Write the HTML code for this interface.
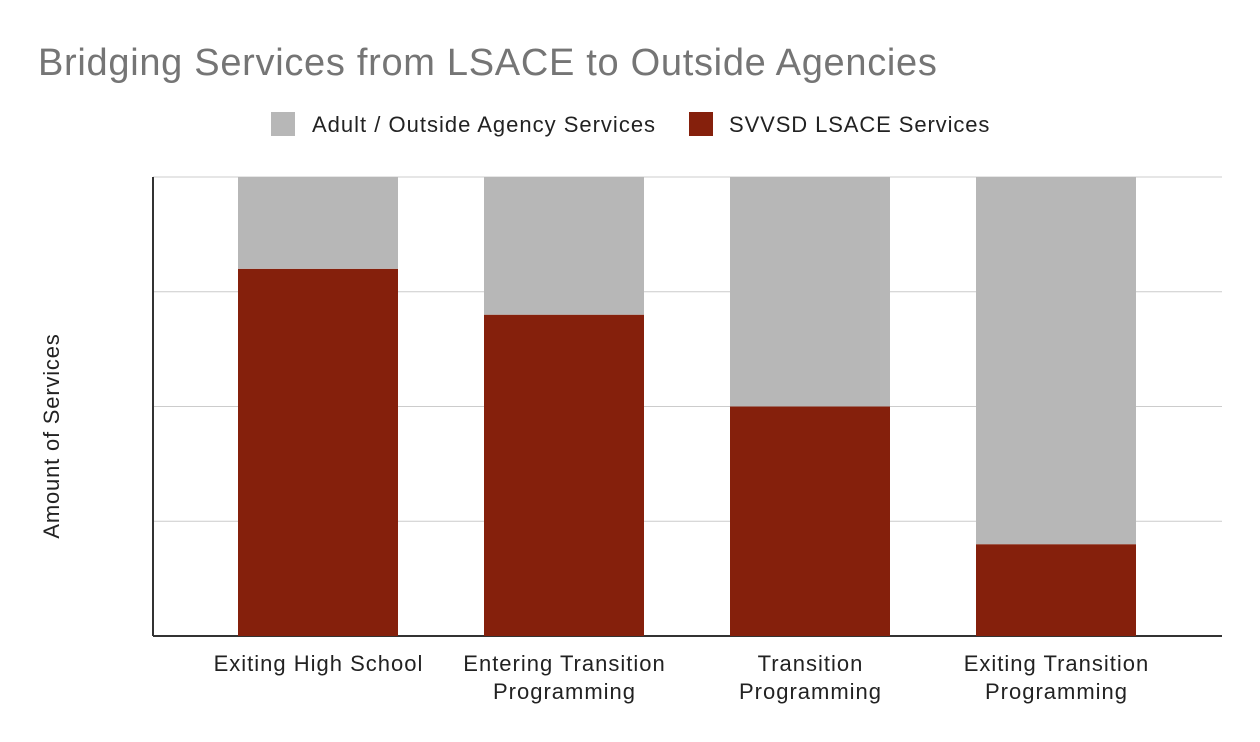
<!DOCTYPE html>
<html><head><meta charset="utf-8"><style>
html,body{margin:0;padding:0;background:#fff;}
svg{display:block;font-family:"Liberation Sans",Arial,sans-serif;}
</style></head><body>
<svg id="chart" width="1260" height="742" viewBox="0 0 1260 742">
<text x="38" y="75" font-size="38" letter-spacing="0.7" fill="#757575">Bridging Services from LSACE to Outside Agencies</text>
<g>
<rect x="271" y="112" width="24" height="24" fill="#b7b7b7"/>
<text x="312" y="132" font-size="22" letter-spacing="1" fill="#222">Adult / Outside Agency Services</text>
<rect x="689" y="112" width="24" height="24" fill="#85200c"/>
<text x="729" y="132" font-size="22" letter-spacing="0.9" fill="#222">SVVSD LSACE Services</text>
</g>
<text transform="translate(59,436) rotate(-90)" text-anchor="middle" font-size="22" letter-spacing="0.8" fill="#222">Amount of Services</text>
<g id="grid"></g><g id="bars"></g><g id="xlabels"></g>
</svg>
<script>
const categories=[["Exiting High School"],["Entering Transition","Programming"],["Transition","Programming"],["Exiting Transition","Programming"]];
const lsaceValues=[80,70,50,20];
const adultValues=[20,30,50,80];
const yTicks=[0,25,50,75,100];
const NS="http://www.w3.org/2000/svg";
const plotL=153,plotR=1222,plotT=177,plotB=636,bandL=195,bandW=246,barW=160,yMax=100;
const y=v=>plotB-(v/yMax)*(plotB-plotT);
const xc=i=>bandL+bandW*(i+0.5);
function mk(tag,attrs,parent){const e=document.createElementNS(NS,tag);for(const k in attrs)e.setAttribute(k,attrs[k]);parent.appendChild(e);return e;}
const grid=document.getElementById('grid');
yTicks.forEach((t,i)=>{
  const l=mk('line',{x1:plotL,x2:plotR,y1:y(t),y2:y(t),stroke:i===0?'#333':'#ccc','stroke-width':i===0?2:1},grid);
  
  
});
const ax=mk('line',{x1:plotL,x2:plotL,y1:plotT,y2:plotB,stroke:'#333','stroke-width':2},grid);


const bars=document.getElementById('bars');
categories.forEach((c,i)=>{
  const x0=xc(i)-barW/2;
  const r=mk('rect',{x:x0,y:y(lsaceValues[i]),width:barW,height:y(0)-y(lsaceValues[i]),fill:'#85200c'},bars);
  
  
  const top=lsaceValues[i]+adultValues[i];
  const g=mk('rect',{x:x0,y:y(top),width:barW,height:y(lsaceValues[i])-y(top),fill:'#b7b7b7'},bars);
  
  
  const xl=document.getElementById('xlabels');
  c.forEach((line,j)=>{
    const t=mk('text',{x:xc(i)+0.5,y:671+j*28,'text-anchor':'middle','font-size':22,'letter-spacing':1,fill:'#222'},xl);
    t.textContent=line;
    
    
  });
});
</script>
</body></html>
